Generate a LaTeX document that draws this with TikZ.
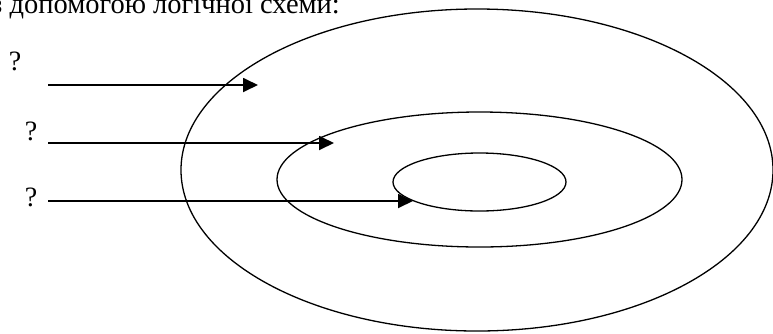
\documentclass[tikz,border=0pt]{standalone}
\usepackage{fontspec}
\setmainfont{Liberation Serif}
\usepackage{tikz}
\usetikzlibrary{arrows.meta}

\begin{document}
\begin{tikzpicture}[x=1pt,y=-1pt,
    qmark/.style={font=\fontsize{28}{32}\selectfont,inner sep=0pt},
    pointer/.style={line width=1.8pt,-{Triangle[length=15pt,width=14pt]}}]
          \useasboundingbox (0,0) rectangle (773,333);
          \node[anchor=base west,inner sep=0pt,font=\fontsize{28.5}{32}\selectfont] (title) at (-9,13.5) {з допомогою логічної схеми:};
          \draw[line width=1.3pt] (477,170) ellipse (296 and 161);
          \draw[line width=1.3pt] (479.5,179.5) ellipse (202.5 and 67.5);
          \draw[line width=1.3pt] (479.5,182) ellipse (86.5 and 29);
          \node[qmark] (q1) at (15,61) {?};
          \node[qmark] (q2) at (31,131) {?};
          \node[qmark] (q3) at (31,197) {?};
          \coordinate (s1) at (48,85);
          \coordinate (t1) at (258,85);
          \coordinate (s2) at (48,143);
          \coordinate (t2) at (334,143);
          \coordinate (s3) at (48,201);
          \coordinate (t3) at (413,201);
          \draw[pointer] (s1) -- (t1);
          \draw[pointer] (s2) -- (t2);
          \draw[pointer] (s3) -- (t3);
        \end{tikzpicture}
\end{document}
